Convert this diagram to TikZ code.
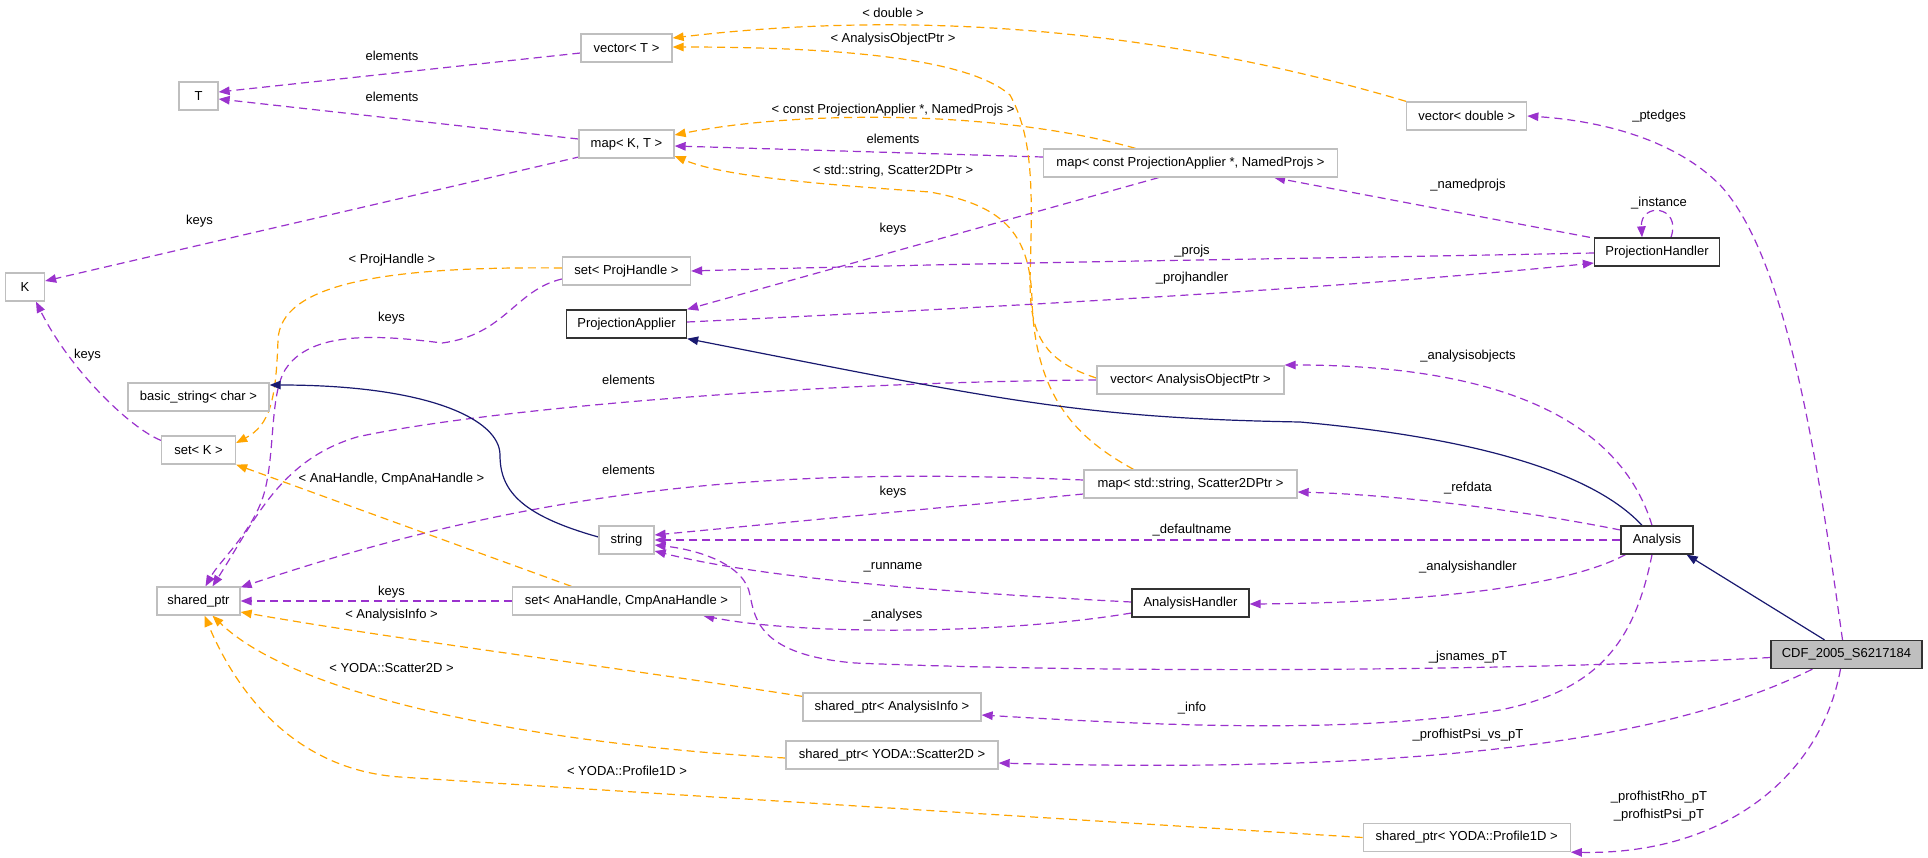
\documentclass[tikz,border=0pt]{standalone}
\usepackage{fontspec}
\setmainfont{Liberation Sans}
\usetikzlibrary{arrows.meta,calc}
\definecolor{purp}{HTML}{9A32CD}
\definecolor{orng}{HTML}{FFA500}
\definecolor{navyb}{HTML}{191970}
\definecolor{boxgray}{HTML}{BFBFBF}
\pgfdeclarelayer{edges}
\pgfsetlayers{edges,main}
\begin{document}
\begin{tikzpicture}[x=1pt,y=-1pt,
  txt/.style={font=\fontsize{13}{15.5}\selectfont},
  box/.style={txt,draw=boxgray,line width=1.3pt,minimum height=28pt,inner sep=0pt,fill=white},
  boldbox/.style={box,draw=black!80},
  mainbox/.style={box,draw=black!80,fill=boxgray},
  lbl/.style={txt,inner sep=0pt,align=center},
  tip/.style={-{Triangle[length=11pt,width=8.5pt]}},
  use/.style={tip,draw=purp,line width=1.2pt,dash pattern=on 8pt off 5pt},
  tmpl/.style={tip,draw=orng,line width=1.2pt,dash pattern=on 8pt off 5pt},
  inh/.style={tip,draw=navyb,line width=1.2pt}]
\begin{pgfonlayer}{edges}
\useasboundingbox[fill=white] (0,0) rectangle (1928,857);
\end{pgfonlayer}

% nodes
\node[box,minimum width=91pt] (vT) at (626.5,48) {vector< T >};
\node[box,minimum width=39pt] (T) at (198.5,96) {T};
\node[box,minimum width=95pt] (mapKT) at (626.5,144) {map< K, T >};
\node[box,minimum width=39pt] (K) at (25,287) {K};
\node[box,minimum width=128pt] (setPH) at (626.5,271) {set< ProjHandle >};
\node[boldbox,minimum width=120pt] (PA) at (626.5,324) {ProjectionApplier};
\node[box,minimum width=141pt] (bstr) at (198.5,397) {basic\_string< char >};
\node[box,minimum width=74pt] (setK) at (198.5,450) {set< K >};
\node[box,minimum width=55pt] (str) at (626.5,540) {string};
\node[box,minimum width=83pt] (sp) at (198.5,601) {shared\_ptr};
\node[box,minimum width=228pt] (setAH) at (626.5,601) {set< AnaHandle, CmpAnaHandle >};
\node[box,minimum width=178pt] (spAI) at (892,707) {shared\_ptr< AnalysisInfo >};
\node[box,minimum width=212pt] (spS2) at (892,755) {shared\_ptr< YODA::Scatter2D >};
\node[box,minimum width=294pt] (mapCPA) at (1190.5,163) {map< const ProjectionApplier *, NamedProjs >};
\node[box,minimum width=187pt] (vAOP) at (1190.5,380) {vector< AnalysisObjectPtr >};
\node[box,minimum width=213pt] (mapSS) at (1190.5,484) {map< std::string, Scatter2DPtr >};
\node[boldbox,minimum width=117pt] (AH) at (1190.5,603) {AnalysisHandler};
\node[box,minimum width=120pt] (vD) at (1466.7,116) {vector< double >};
\node[box,minimum width=207pt] (spP1) at (1466.7,837.5) {shared\_ptr< YODA::Profile1D >};
\node[boldbox,minimum width=125pt] (PH) at (1657,252) {ProjectionHandler};
\node[boldbox,minimum width=72pt] (An) at (1657,540) {Analysis};
\node[mainbox,minimum width=151pt] (CDF) at (1846.5,654.5) {CDF\_2005\_S6217184};

% edges
\begin{pgfonlayer}{edges}
\draw[use] ($(vT.west)+(0,5)$) -- ($(T.east)+(0,-4)$);
\draw[use] ($(mapKT.west)+(0,-5)$) -- ($(T.east)+(0,3)$);
\draw[use] ($(mapKT.south west)+(2,-2)$) -- ($(K.east)+(0,-6)$);
\draw[use] ($(setK.north west)+(0,5)$) .. controls (130,428) and (70,370) .. ($(K.south)+(11,0)$);
\draw[tmpl] ($(setPH.west)+(0,-3)$) .. controls (380,266) and (280,285) .. (278,340)
  .. controls (276,400) and (270,425) .. ($(setK.east)+(0,-7)$);
\draw[use] ($(setPH.west)+(0,8)$) .. controls (515,290) and (505,335) .. (442,343)
  .. controls (380,335) and (310,330) .. (285,370)
  .. controls (270,395) and (275,450) .. (265,490)
  .. controls (255,530) and (220,560) .. ($(sp.north)+(7,0)$);
\draw[tmpl] ($(mapCPA.north)+(-55,0)$) .. controls (1000,110) and (800,110) .. ($(mapKT.east)+(0,-9)$);
\draw[use] ($(mapCPA.west)+(0,-6)$) -- ($(mapKT.east)+(0,2)$);
\draw[tmpl] ($(mapSS.north)+(-57,0)$) .. controls (1080,440) and (1035,400) .. (1032,300)
  .. controls (1030,230) and (1000,205) .. (930,192)
  .. controls (800,183) and (720,175) .. ($(mapKT.east)+(0,12)$);
\draw[tmpl] ($(vAOP.west)+(0,-2)$) .. controls (1040,360) and (1030,330) .. (1030,280)
  .. controls (1032,200) and (1035,140) .. (1010,95)
  .. controls (970,60) and (850,47) .. ($(vT.east)+(0,-1)$);
\draw[tmpl] (vD.north west) .. controls (1200,40) and (950,5) .. ($(vT.east)+(0,-10)$);
\draw[use] (vAOP.west) .. controls (800,382) and (480,410) .. (357,437)
  .. controls (280,460) and (255,520) .. ($(sp.north)+(14,0)$);
\draw[use] ($(mapSS.west)+(0,-4)$) .. controls (800,468) and (560,480) .. ($(sp.north east)+(0,1)$);
\draw[use] ($(mapSS.west)+(0,10)$) -- ($(str.east)+(0,-5)$);
\draw[use] (An.west) -- (str.east);
\draw[use] ($(AH.west)+(0,-1)$) .. controls (900,590) and (750,575) .. ($(str.east)+(0,11)$);
\draw[use] ($(CDF.west)+(0,3)$) .. controls (1500,672) and (1100,673) .. (855,663)
  .. controls (760,655) and (755,620) .. (750,595)
  .. controls (745,565) and (700,550) .. ($(str.east)+(0,5)$);
\draw[use] ($(An.west)+(0,-10)$) .. controls (1520,510) and (1400,495) .. ($(mapSS.east)+(0,8)$);
\draw[use] ($(An.south west)+(5,0)$) .. controls (1560,590) and (1400,603) .. ($(AH.east)+(0,1)$);
\draw[use] ($(AH.west)+(0,10)$) .. controls (1000,635) and (800,635) .. ($(setAH.south east)+(-38,0)$);
\draw[use] (setAH.west) -- (sp.east);
\draw[tmpl] ($(setAH.north)+(-55,0)$) -- (setK.south east);
\draw[tmpl] ($(spAI.north west)+(0,4)$) .. controls (600,665) and (400,640) .. ($(sp.east)+(0,11)$);
\draw[tmpl] ($(spS2.west)+(0,3)$) .. controls (550,745) and (300,700) .. ($(sp.south)+(14,0)$);
\draw[tmpl] (spP1.west) .. controls (1000,815) and (600,790) .. (400,777)
  .. controls (300,770) and (240,700) .. ($(sp.south)+(6,0)$);
\draw[use] ($(PH.west)+(0,1)$) .. controls (1300,259) and (1000,262) .. (setPH.east);
\draw[use] ($(PA.east)+(0,-2)$) .. controls (1000,307) and (1350,288) .. ($(PH.west)+(0,11)$);
\draw[use] ($(mapCPA.south)+(-32,0)$) -- (PA.north east);
\draw[use] ($(PH.north west)+(-4,0)$) -- ($(mapCPA.south east)+(-64,0)$);
\draw[use] ($(PH.north)+(14,0)$) .. controls (1682,205) and (1640,202) .. ($(PH.north)+(-15,0)$);
\draw[use] ($(An.north)+(-5,0)$) .. controls (1620,420) and (1500,365) .. ($(vAOP.east)+(0,-15)$);
\draw[use] ($(CDF.north)+(-4,0)$) .. controls (1820,480) and (1790,260) .. (1720,185)
  .. controls (1670,135) and (1590,120) .. (vD.east);
\draw[use] ($(An.south)+(-5,0)$) .. controls (1635,640) and (1600,690) .. (1500,710)
  .. controls (1350,735) and (1150,725) .. ($(spAI.east)+(0,8)$);
\draw[use] ($(CDF.south west)+(42,0)$) .. controls (1680,735) and (1450,775) .. ($(spS2.east)+(0,8)$);
\draw[use] ($(CDF.south)+(-6,0)$) .. controls (1820,780) and (1720,855) .. (spP1.south east);
\draw[inh] ($(An.north)+(-15,0)$) .. controls (1600,480) and (1500,440) .. (1300,422)
  .. controls (1080,418) and (1000,400) .. (PA.south east);
\draw[inh] ($(str.west)+(0,-3)$) .. controls (520,515) and (500,490) .. (500,455)
  .. controls (500,420) and (430,385) .. ($(bstr.east)+(0,-12)$);
\draw[inh] ($(CDF.north)+(-22,0)$) -- ($(An.south east)+(-7,0)$);
\end{pgfonlayer}

% labels
\node[lbl] (l1) at (392,56) {elements};
\node[lbl] (l2) at (392,97) {elements};
\node[lbl] (l3) at (199.5,221) {keys};
\node[lbl] (l4) at (87.5,355) {keys};
\node[lbl] (l5) at (392,260) {< ProjHandle >};
\node[lbl] (l6) at (391.5,318) {keys};
\node[lbl] (l7) at (893,110) {< const ProjectionApplier *, NamedProjs >};
\node[lbl] (l8) at (893,139) {elements};
\node[lbl] (l9) at (893,171) {< std::string, Scatter2DPtr >};
\node[lbl] (l10) at (893,39) {< AnalysisObjectPtr >};
\node[lbl] (l11) at (893,13) {< double >};
\node[lbl] (l12) at (628.6,380) {elements};
\node[lbl] (l13) at (628.6,470) {elements};
\node[lbl] (l14) at (893,492) {keys};
\node[lbl] (l15) at (1192,530) {\_defaultname};
\node[lbl] (l16) at (893,567) {\_runname};
\node[lbl] (l17) at (1468,657) {\_jsnames\_pT};
\node[lbl] (l18) at (1468,488) {\_refdata};
\node[lbl] (l19) at (1468,567) {\_analysishandler};
\node[lbl] (l20) at (893,615) {\_analyses};
\node[lbl] (l21) at (391.5,592) {keys};
\node[lbl] (l22) at (391.5,479) {< AnaHandle, CmpAnaHandle >};
\node[lbl] (l23) at (391.5,615) {< AnalysisInfo >};
\node[lbl] (l24) at (391.5,668) {< YODA::Scatter2D >};
\node[lbl] (l25) at (627,771) {< YODA::Profile1D >};
\node[lbl] (l26) at (1192,251) {\_projs};
\node[lbl] (l27) at (1192,278) {\_projhandler};
\node[lbl] (l28) at (893,229) {keys};
\node[lbl] (l29) at (1468,185) {\_namedprojs};
\node[lbl] (l30) at (1659,203) {\_instance};
\node[lbl] (l31) at (1468,356) {\_analysisobjects};
\node[lbl] (l32) at (1659,116) {\_ptedges};
\node[lbl] (l33) at (1192,708) {\_info};
\node[lbl] (l34) at (1468,735) {\_profhistPsi\_vs\_pT};
\node[lbl,font=\fontsize{13}{18}\selectfont] (l35) at (1659,806) {\_profhistRho\_pT\\\_profhistPsi\_pT};
\end{tikzpicture}
\end{document}
